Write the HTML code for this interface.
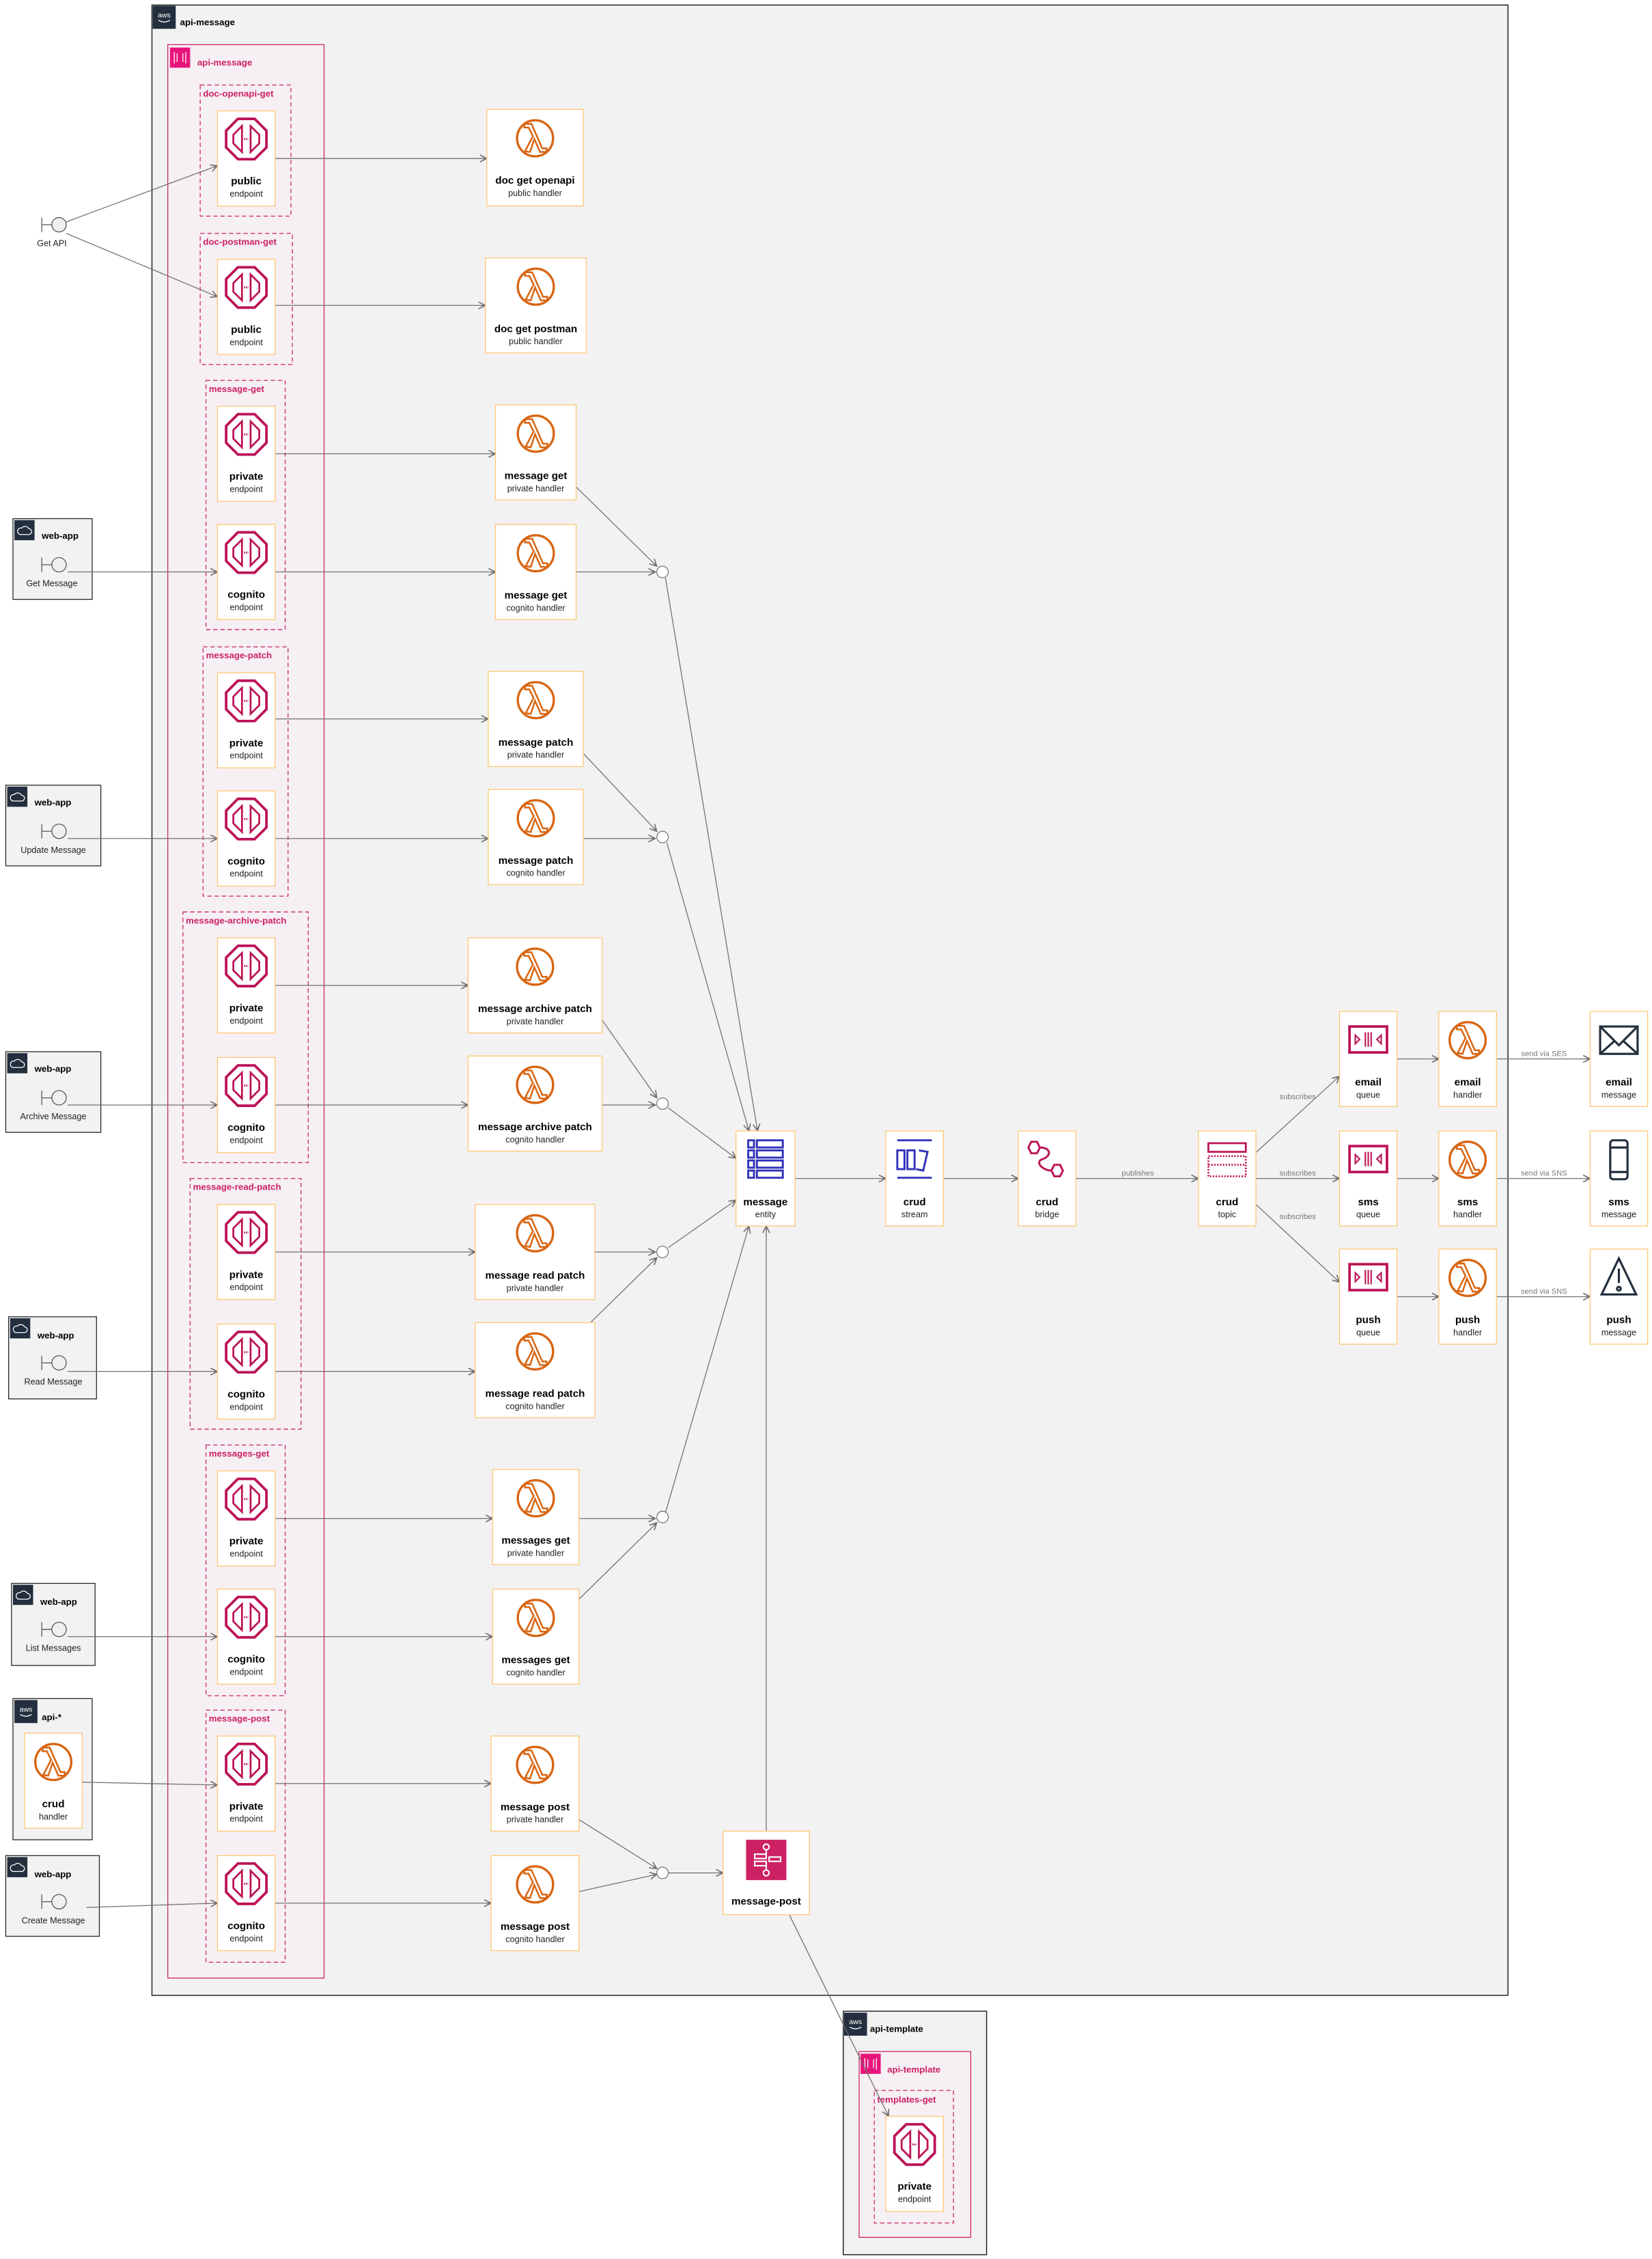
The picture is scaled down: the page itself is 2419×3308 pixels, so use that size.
<!DOCTYPE html>
<html><head><meta charset="utf-8"><style>
html,body{margin:0;padding:0;background:#fff}
svg{display:block}
text{font-family:"Liberation Sans",sans-serif}
.n{fill:#fff;stroke:#FFC670;stroke-width:0.6}
.t{font-size:7.2px;font-weight:bold;text-anchor:middle;fill:#000}
.s{font-size:6px;text-anchor:middle;fill:#222}
.g{fill:none;stroke:#CC2264;stroke-width:0.6;stroke-dasharray:3,2}
.gl{font-size:6.3px;font-weight:bold;fill:#CC2264}
.e{fill:none;stroke:#707070;stroke-width:0.6;marker-end:url(#ar)}
.el{fill:none;stroke:#707070;stroke-width:0.6}
.lb{font-size:5.3px;fill:#777;text-anchor:middle}
.wb{fill:#f2f2f2;stroke:#222;stroke-width:0.6}
.wl{font-size:6.3px;font-weight:bold;fill:#000}
.al{font-size:6px;fill:#222;text-anchor:middle}
.jc{fill:#fff;stroke:#777;stroke-width:0.6}
</style></head><body>
<svg width="2419" height="3308" viewBox="0 0 1147 1568" preserveAspectRatio="none" xmlns="http://www.w3.org/2000/svg">
<defs>
<marker id="ar" viewBox="0 0 10 10" refX="9" refY="5" markerWidth="6" markerHeight="6" markerUnits="userSpaceOnUse" orient="auto"><path d="M1,1 L9,5 L1,9 M9,5 L4,5" fill="none" stroke="#707070" stroke-width="1.3"/></marker>
<g id="lam"><circle r="12.5" fill="none" stroke="#D86613" stroke-width="1.6"/><path d="M-7,9 L-1.5,-1.5 L-4.5,-7.5 L-7.5,-7.5 L-7.5,-10 L-2.5,-10 L5,7 L8,7 L8,9.5 L3.5,9.5 L-0.5,0.5 L-3.5,9.5 Z" fill="none" stroke="#D86613" stroke-width="1.2"/></g>
<g id="gw"><polygon points="-5.8,-14 5.8,-14 14,-5.8 14,5.8 5.8,14 -5.8,14 -14,5.8 -14,-5.8" fill="none" stroke="#BC1356" stroke-width="1.8"/><path d="M-3,-9 L-9,-3 L-9,3 L-3,9 Z M3,-9 L9,-3 L9,3 L3,9 Z" fill="none" stroke="#BC1356" stroke-width="1.3"/><path d="M-1.5,0 L1.5,0" stroke="#BC1356" stroke-width="1.3" stroke-dasharray="0.8,0.6"/></g>
<g id="q"><rect x="-13" y="-9" width="26" height="18" fill="none" stroke="#BC1356" stroke-width="1.8"/><path d="M-2,-5 V5 M0,-5 V5 M2,-5 V5 M-9,-3 L-6,0 L-9,3 Z M9,-3 L6,0 L9,3 Z" fill="none" stroke="#BC1356" stroke-width="1"/></g>
<g id="dyn" fill="none" stroke="#3334B9" stroke-width="1.4"><rect x="-12" y="-13" width="4" height="5"/><rect x="-6" y="-13" width="18" height="5"/><rect x="-12" y="-6" width="4" height="5"/><rect x="-6" y="-6" width="18" height="5"/><rect x="-12" y="1" width="4" height="5"/><rect x="-6" y="1" width="18" height="5"/><rect x="-12" y="8" width="4" height="5"/><rect x="-6" y="8" width="18" height="5"/></g>
<g id="kin" fill="none" stroke="#3334B9" stroke-width="1.4"><path d="M-12,-13 H12 M-12,13 H12"/><rect x="-12" y="-6" width="5" height="13"/><rect x="-5" y="-6" width="5" height="13"/><path d="M3,-6 L9,-5 L6,8 L1,7"/></g>
<g id="brg" fill="none" stroke="#BC1356" stroke-width="1.4"><polygon points="-11,-12 -7,-12 -5,-8 -7,-4 -11,-4 -13,-8"/><polygon points="5,4 9,4 11,8 9,12 5,12 3,8"/><path d="M-5,-8 C3,-8 3,-2 -3,0 C-9,2 -3,8 3,8"/></g>
<g id="sns" fill="none" stroke="#BC1356" stroke-width="1.3"><rect x="-13" y="-11" width="26" height="6"/><rect x="-13" y="-2" width="26" height="14" stroke-dasharray="1,1"/><path d="M-13,4 H13" stroke-dasharray="1,1"/></g>
<g id="env" fill="none" stroke="#232F3E" stroke-width="1.5"><rect x="-13" y="-9" width="26" height="19"/><path d="M-13,-9 L0,4 L13,-9 M-13,10 L-3,1 M13,10 L3,1"/></g>
<g id="mob" fill="none" stroke="#232F3E" stroke-width="1.5"><rect x="-6" y="-13" width="12" height="27" rx="2"/><path d="M-6,-8 H6 M-6,9 H6"/></g>
<g id="alr" fill="none" stroke="#232F3E" stroke-width="1.5"><path d="M0,-13 L12,12 H-12 Z M0,-6 V4"/><circle cx="0" cy="8" r="1.3"/></g>
<g id="sf"><rect x="-14" y="-14" width="28" height="28" fill="#CC2264"/><g fill="none" stroke="#fff" stroke-width="1"><circle cx="0" cy="-9" r="2"/><path d="M0,-7 V-4 M0,4 V7"/><rect x="-8" y="-4" width="8" height="3"/><rect x="-8" y="1" width="8" height="3"/><rect x="2" y="-2" width="8" height="3"/><circle cx="0" cy="9" r="2"/></g></g>
<g id="aws"><rect width="16" height="16" fill="#232F3E"/><text x="8" y="8" font-size="5" fill="#fff" text-anchor="middle">aws</text><path d="M4,10 Q8,12.5 12,10" stroke="#fff" fill="none" stroke-width="0.6"/></g>
<g id="cld"><rect width="14" height="14" fill="#232F3E"/><path d="M4,10 H10 A2,2 0 0 0 10,6 A3,3 0 0 0 5,5.5 A2.3,2.3 0 0 0 4,10 Z" fill="none" stroke="#fff" stroke-width="0.6"/></g>
<g id="agi"><rect width="14" height="14" fill="#E7157B"/><path d="M3,3 L3,11 M11,3 L11,11 M5,4 V10 M9,4 V10" stroke="#fff" stroke-width="0.6"/></g>
<g id="act"><path d="M-12,-5 V5 M-12,0 H-5" stroke="#555" stroke-width="0.6"/><circle r="5" fill="#f0f0f0" stroke="#555" stroke-width="0.6"/></g>
</defs>

<!-- outer api-message -->
<rect x="105.5" y="3.5" width="941.5" height="1381.5" fill="#f2f2f2" stroke="#222" stroke-width="0.7"/>
<use href="#aws" x="106" y="4"/>
<text x="125" y="17.5" class="wl">api-message</text>
<rect x="116.5" y="31" width="108.5" height="1342" fill="#F6EFF3" stroke="#CC2264" stroke-width="0.6"/>
<use href="#agi" x="118" y="33"/>
<text x="137" y="45.5" class="gl">api-message</text>

<!-- api-template -->
<rect x="585.5" y="1396" width="99.5" height="169" fill="#f2f2f2" stroke="#222" stroke-width="0.7"/>
<use href="#aws" x="586" y="1397"/>
<text x="604" y="1410.5" class="wl">api-template</text>
<rect x="596.5" y="1424" width="77.5" height="129" fill="#F6EFF3" stroke="#CC2264" stroke-width="0.6"/>
<use href="#agi" x="597.5" y="1425.5"/>
<text x="616" y="1438.5" class="gl">api-template</text>
<rect x="607" y="1451" width="55" height="92" class="g"/>
<text x="609" y="1459.5" class="gl">templates-get</text>

<!-- dashed groups -->
<rect x="139" y="59" width="63" height="91" class="g"/><text x="141" y="67" class="gl">doc-openapi-get</text>
<rect x="139" y="162" width="64" height="91" class="g"/><text x="141" y="170" class="gl">doc-postman-get</text>
<rect x="143" y="264" width="55" height="173" class="g"/><text x="145" y="272" class="gl">message-get</text>
<rect x="141" y="449" width="59" height="173" class="g"/><text x="143" y="457" class="gl">message-patch</text>
<rect x="127" y="633" width="87" height="174" class="g"/><text x="129" y="641" class="gl">message-archive-patch</text>
<rect x="132" y="818" width="77" height="174" class="g"/><text x="134" y="826" class="gl">message-read-patch</text>
<rect x="143" y="1003" width="55" height="174" class="g"/><text x="145" y="1011" class="gl">messages-get</text>
<rect x="143" y="1187" width="55" height="175" class="g"/><text x="145" y="1195" class="gl">message-post</text>

<!-- web-app boxes -->
<g><rect x="9" y="360" width="55" height="56" class="wb"/><use href="#cld" x="10" y="361"/><text x="29" y="374" class="wl">web-app</text><use href="#act" x="41" y="392"/><text x="36" y="407" class="al">Get Message</text></g>
<g><rect x="4" y="545" width="66" height="56" class="wb"/><use href="#cld" x="5" y="546"/><text x="24" y="559" class="wl">web-app</text><use href="#act" x="41" y="577"/><text x="37" y="592" class="al">Update Message</text></g>
<g><rect x="4" y="730" width="66" height="56" class="wb"/><use href="#cld" x="5" y="731"/><text x="24" y="744" class="wl">web-app</text><use href="#act" x="41" y="762"/><text x="37" y="777" class="al">Archive Message</text></g>
<g><rect x="6" y="914" width="61" height="57" class="wb"/><use href="#cld" x="7" y="915"/><text x="26" y="929" class="wl">web-app</text><use href="#act" x="41" y="946"/><text x="37" y="961" class="al">Read Message</text></g>
<g><rect x="8" y="1099" width="58" height="57" class="wb"/><use href="#cld" x="9" y="1100"/><text x="28" y="1114" class="wl">web-app</text><use href="#act" x="41" y="1131"/><text x="37" y="1146" class="al">List Messages</text></g>
<g><rect x="4" y="1288" width="65" height="56" class="wb"/><use href="#cld" x="5" y="1289"/><text x="24" y="1303" class="wl">web-app</text><use href="#act" x="41" y="1320"/><text x="37" y="1335" class="al">Create Message</text></g>
<g><rect x="9" y="1179" width="55" height="98" class="wb"/><use href="#aws" x="10" y="1180"/><text x="29" y="1194" class="wl">api-*</text></g>
<use href="#act" x="41" y="156"/><text x="36" y="171" class="al">Get API</text>

<!-- edges -->
<path class="e" d="M46,154 L151,115"/>
<path class="e" d="M46,162 L151,206"/>
<path class="e" d="M191,110 H338"/>
<path class="e" d="M191,212 H337"/>
<path class="e" d="M191,315 H344"/>
<path class="e" d="M191,397 H344"/>
<path class="e" d="M191,499 H339"/>
<path class="e" d="M191,582 H339"/>
<path class="e" d="M191,684 H325"/>
<path class="e" d="M191,767 H325"/>
<path class="e" d="M191,869 H330"/>
<path class="e" d="M191,952 H330"/>
<path class="e" d="M191,1054 H342"/>
<path class="e" d="M191,1136 H342"/>
<path class="e" d="M191,1238 H341"/>
<path class="e" d="M191,1321 H341"/>
<path class="e" d="M47,397 H151"/>
<path class="e" d="M47,582 H151"/>
<path class="e" d="M47,767 H151"/>
<path class="e" d="M47,952 H151"/>
<path class="e" d="M47,1136 H151"/>
<path class="e" d="M60,1324 L151,1321"/>
<path class="e" d="M57,1237 L151,1239"/>
<!-- lambda to junctions -->
<path class="e" d="M400,338 L456,393"/><path class="e" d="M400,397 H455"/>
<path class="e" d="M405,523 L456,577"/><path class="e" d="M405,582 H455"/>
<path class="e" d="M418,708 L456,762"/><path class="e" d="M418,767 H455"/>
<path class="e" d="M413,869 H455"/><path class="e" d="M410,918 L456,873"/>
<path class="e" d="M402,1054 H455"/><path class="e" d="M402,1110 L456,1057"/>
<path class="e" d="M402,1263 L456,1297"/><path class="e" d="M402,1313 L456,1301"/>
<!-- junctions to entity -->
<path class="e" d="M462,401 L526,785"/>
<path class="e" d="M463,585 L520,785"/>
<path class="e" d="M464,769 L511,804"/>
<path class="e" d="M464,866 L511,833"/>
<path class="e" d="M462,1050 L520,851"/>
<path class="e" d="M532,1271 V851"/>
<path class="e" d="M464,1300 H502"/>
<path class="e" d="M548,1329 L617,1469"/>
<circle cx="460" cy="397" r="4" class="jc"/>
<circle cx="460" cy="581" r="4" class="jc"/>
<circle cx="460" cy="766" r="4" class="jc"/>
<circle cx="460" cy="869" r="4" class="jc"/>
<circle cx="460" cy="1053" r="4" class="jc"/>
<circle cx="460" cy="1300" r="4" class="jc"/>
<!-- right side -->
<path class="e" d="M552,818 H615"/>
<path class="e" d="M655,818 H707"/>
<path class="e" d="M747,818 H832"/><text x="790" y="816" class="lb">publishes</text>
<path class="e" d="M872,800 L930,747"/><text x="901" y="763" class="lb">subscribes</text>
<path class="e" d="M872,818 H930"/><text x="901" y="816" class="lb">subscribes</text>
<path class="e" d="M872,836 L930,890"/><text x="901" y="846" class="lb">subscribes</text>
<path class="e" d="M970,735 H999"/>
<path class="e" d="M970,818 H999"/>
<path class="e" d="M970,900 H999"/>
<path class="e" d="M1039,735 H1104"/><text x="1072" y="733" class="lb">send via SES</text>
<path class="e" d="M1039,818 H1104"/><text x="1072" y="816" class="lb">send via SNS</text>
<path class="e" d="M1039,900 H1104"/><text x="1072" y="898" class="lb">send via SNS</text>

<!-- endpoint nodes -->
<g transform="translate(151,77)"><rect width="40" height="66" class="n"/><use href="#gw" x="20" y="19.5"/><text x="20" y="51" class="t">public</text><text x="20" y="59.5" class="s">endpoint</text></g>
<g transform="translate(151,180)"><rect width="40" height="66" class="n"/><use href="#gw" x="20" y="19.5"/><text x="20" y="51" class="t">public</text><text x="20" y="59.5" class="s">endpoint</text></g>
<g transform="translate(151,282)"><rect width="40" height="66" class="n"/><use href="#gw" x="20" y="19.5"/><text x="20" y="51" class="t">private</text><text x="20" y="59.5" class="s">endpoint</text></g>
<g transform="translate(151,364)"><rect width="40" height="66" class="n"/><use href="#gw" x="20" y="19.5"/><text x="20" y="51" class="t">cognito</text><text x="20" y="59.5" class="s">endpoint</text></g>
<g transform="translate(151,467)"><rect width="40" height="66" class="n"/><use href="#gw" x="20" y="19.5"/><text x="20" y="51" class="t">private</text><text x="20" y="59.5" class="s">endpoint</text></g>
<g transform="translate(151,549)"><rect width="40" height="66" class="n"/><use href="#gw" x="20" y="19.5"/><text x="20" y="51" class="t">cognito</text><text x="20" y="59.5" class="s">endpoint</text></g>
<g transform="translate(151,651)"><rect width="40" height="66" class="n"/><use href="#gw" x="20" y="19.5"/><text x="20" y="51" class="t">private</text><text x="20" y="59.5" class="s">endpoint</text></g>
<g transform="translate(151,734)"><rect width="40" height="66" class="n"/><use href="#gw" x="20" y="19.5"/><text x="20" y="51" class="t">cognito</text><text x="20" y="59.5" class="s">endpoint</text></g>
<g transform="translate(151,836)"><rect width="40" height="66" class="n"/><use href="#gw" x="20" y="19.5"/><text x="20" y="51" class="t">private</text><text x="20" y="59.5" class="s">endpoint</text></g>
<g transform="translate(151,919)"><rect width="40" height="66" class="n"/><use href="#gw" x="20" y="19.5"/><text x="20" y="51" class="t">cognito</text><text x="20" y="59.5" class="s">endpoint</text></g>
<g transform="translate(151,1021)"><rect width="40" height="66" class="n"/><use href="#gw" x="20" y="19.5"/><text x="20" y="51" class="t">private</text><text x="20" y="59.5" class="s">endpoint</text></g>
<g transform="translate(151,1103)"><rect width="40" height="66" class="n"/><use href="#gw" x="20" y="19.5"/><text x="20" y="51" class="t">cognito</text><text x="20" y="59.5" class="s">endpoint</text></g>
<g transform="translate(151,1205)"><rect width="40" height="66" class="n"/><use href="#gw" x="20" y="19.5"/><text x="20" y="51" class="t">private</text><text x="20" y="59.5" class="s">endpoint</text></g>
<g transform="translate(151,1288)"><rect width="40" height="66" class="n"/><use href="#gw" x="20" y="19.5"/><text x="20" y="51" class="t">cognito</text><text x="20" y="59.5" class="s">endpoint</text></g>
<g transform="translate(615,1469)"><rect width="40" height="66" class="n"/><use href="#gw" x="20" y="19.5"/><text x="20" y="51" class="t">private</text><text x="20" y="59.5" class="s">endpoint</text></g>

<!-- lambda nodes -->
<g transform="translate(338,76)"><rect width="67" height="67" class="n"/><use href="#lam" x="33.5" y="20"/><text x="33.5" y="51.5" class="t">doc get openapi</text><text x="33.5" y="60" class="s">public handler</text></g>
<g transform="translate(337,179)"><rect width="70" height="66" class="n"/><use href="#lam" x="35" y="20"/><text x="35" y="51.5" class="t">doc get postman</text><text x="35" y="60" class="s">public handler</text></g>
<g transform="translate(344,281)"><rect width="56" height="66" class="n"/><use href="#lam" x="28" y="20"/><text x="28" y="51.5" class="t">message get</text><text x="28" y="60" class="s">private handler</text></g>
<g transform="translate(344,364)"><rect width="56" height="66" class="n"/><use href="#lam" x="28" y="20"/><text x="28" y="51.5" class="t">message get</text><text x="28" y="60" class="s">cognito handler</text></g>
<g transform="translate(339,466)"><rect width="66" height="66" class="n"/><use href="#lam" x="33" y="20"/><text x="33" y="51.5" class="t">message patch</text><text x="33" y="60" class="s">private handler</text></g>
<g transform="translate(339,548)"><rect width="66" height="66" class="n"/><use href="#lam" x="33" y="20"/><text x="33" y="51.5" class="t">message patch</text><text x="33" y="60" class="s">cognito handler</text></g>
<g transform="translate(325,651)"><rect width="93" height="66" class="n"/><use href="#lam" x="46.5" y="20"/><text x="46.5" y="51.5" class="t">message archive patch</text><text x="46.5" y="60" class="s">private handler</text></g>
<g transform="translate(325,733)"><rect width="93" height="66" class="n"/><use href="#lam" x="46.5" y="20"/><text x="46.5" y="51.5" class="t">message archive patch</text><text x="46.5" y="60" class="s">cognito handler</text></g>
<g transform="translate(330,836)"><rect width="83" height="66" class="n"/><use href="#lam" x="41.5" y="20"/><text x="41.5" y="51.5" class="t">message read patch</text><text x="41.5" y="60" class="s">private handler</text></g>
<g transform="translate(330,918)"><rect width="83" height="66" class="n"/><use href="#lam" x="41.5" y="20"/><text x="41.5" y="51.5" class="t">message read patch</text><text x="41.5" y="60" class="s">cognito handler</text></g>
<g transform="translate(342,1020)"><rect width="60" height="66" class="n"/><use href="#lam" x="30" y="20"/><text x="30" y="51.5" class="t">messages get</text><text x="30" y="60" class="s">private handler</text></g>
<g transform="translate(342,1103)"><rect width="60" height="66" class="n"/><use href="#lam" x="30" y="20"/><text x="30" y="51.5" class="t">messages get</text><text x="30" y="60" class="s">cognito handler</text></g>
<g transform="translate(341,1205)"><rect width="61" height="66" class="n"/><use href="#lam" x="30.5" y="20"/><text x="30.5" y="51.5" class="t">message post</text><text x="30.5" y="60" class="s">private handler</text></g>
<g transform="translate(341,1288)"><rect width="61" height="66" class="n"/><use href="#lam" x="30.5" y="20"/><text x="30.5" y="51.5" class="t">message post</text><text x="30.5" y="60" class="s">cognito handler</text></g>
<g transform="translate(17,1203)"><rect width="40" height="66" class="n"/><use href="#lam" x="20" y="20"/><text x="20" y="51.5" class="t">crud</text><text x="20" y="60" class="s">handler</text></g>

<!-- step function -->
<g transform="translate(502,1271)"><rect width="60" height="58" class="n"/><use href="#sf" x="30" y="20"/><text x="30" y="51" class="t">message-post</text></g>

<!-- right nodes -->
<g transform="translate(511,785)"><rect width="41" height="66" class="n"/><use href="#dyn" x="20.5" y="19.5"/><text x="20.5" y="51.5" class="t">message</text><text x="20.5" y="60" class="s">entity</text></g>
<g transform="translate(615,785)"><rect width="40" height="66" class="n"/><use href="#kin" x="20" y="19.5"/><text x="20" y="51.5" class="t">crud</text><text x="20" y="60" class="s">stream</text></g>
<g transform="translate(707,785)"><rect width="40" height="66" class="n"/><use href="#brg" x="20" y="19.5"/><text x="20" y="51.5" class="t">crud</text><text x="20" y="60" class="s">bridge</text></g>
<g transform="translate(832,785)"><rect width="40" height="66" class="n"/><use href="#sns" x="20" y="19.5"/><text x="20" y="51.5" class="t">crud</text><text x="20" y="60" class="s">topic</text></g>
<g transform="translate(930,702)"><rect width="40" height="66" class="n"/><use href="#q" x="20" y="19.5"/><text x="20" y="51.5" class="t">email</text><text x="20" y="60" class="s">queue</text></g>
<g transform="translate(930,785)"><rect width="40" height="66" class="n"/><use href="#q" x="20" y="19.5"/><text x="20" y="51.5" class="t">sms</text><text x="20" y="60" class="s">queue</text></g>
<g transform="translate(930,867)"><rect width="40" height="66" class="n"/><use href="#q" x="20" y="19.5"/><text x="20" y="51.5" class="t">push</text><text x="20" y="60" class="s">queue</text></g>
<g transform="translate(999,702)"><rect width="40" height="66" class="n"/><use href="#lam" x="20" y="20"/><text x="20" y="51.5" class="t">email</text><text x="20" y="60" class="s">handler</text></g>
<g transform="translate(999,785)"><rect width="40" height="66" class="n"/><use href="#lam" x="20" y="20"/><text x="20" y="51.5" class="t">sms</text><text x="20" y="60" class="s">handler</text></g>
<g transform="translate(999,867)"><rect width="40" height="66" class="n"/><use href="#lam" x="20" y="20"/><text x="20" y="51.5" class="t">push</text><text x="20" y="60" class="s">handler</text></g>
<g transform="translate(1104,702)"><rect width="40" height="66" class="n"/><use href="#env" x="20" y="19.5"/><text x="20" y="51.5" class="t">email</text><text x="20" y="60" class="s">message</text></g>
<g transform="translate(1104,785)"><rect width="40" height="66" class="n"/><use href="#mob" x="20" y="19.5"/><text x="20" y="51.5" class="t">sms</text><text x="20" y="60" class="s">message</text></g>
<g transform="translate(1104,867)"><rect width="40" height="66" class="n"/><use href="#alr" x="20" y="19.5"/><text x="20" y="51.5" class="t">push</text><text x="20" y="60" class="s">message</text></g>
</svg>
</body></html>
